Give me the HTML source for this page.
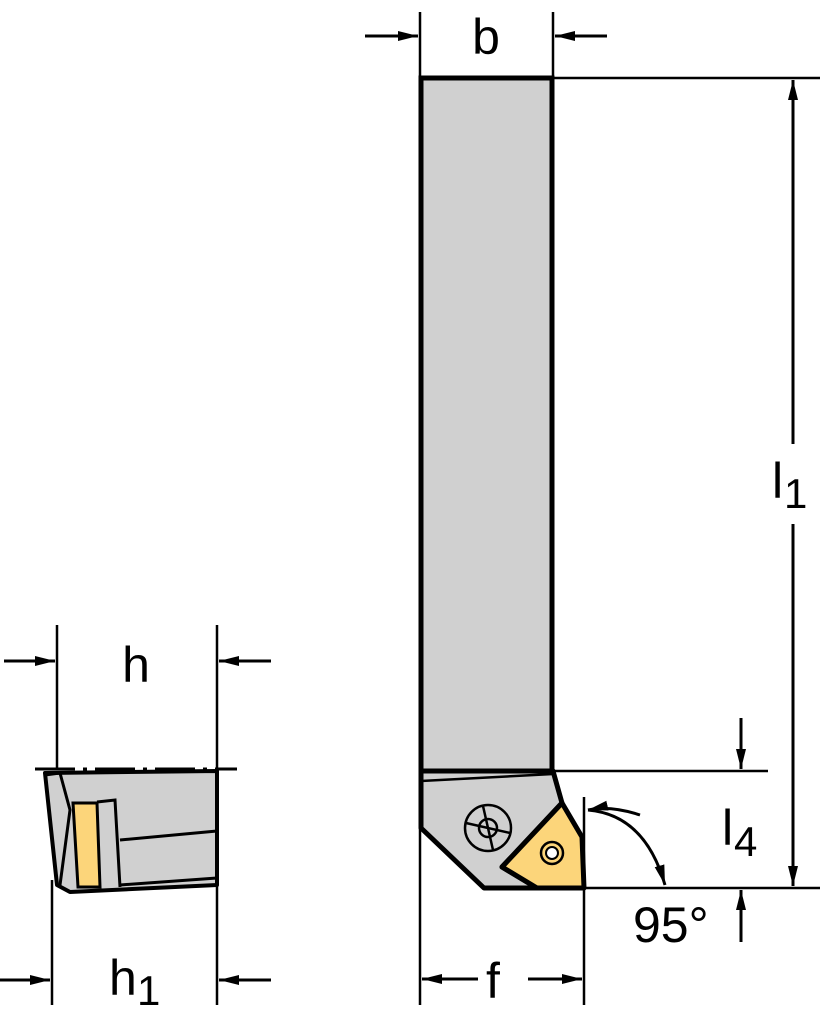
<!DOCTYPE html>
<html><head><style>html,body{margin:0;padding:0;background:#fff}svg{display:block}</style></head>
<body>
<svg width="820" height="1024" viewBox="0 0 820 1024" xmlns="http://www.w3.org/2000/svg" font-family="Liberation Sans, sans-serif">
<defs>
<marker id="a" viewBox="0 0 20 10" refX="20" refY="5" markerWidth="20" markerHeight="10" markerUnits="userSpaceOnUse" orient="auto"><path d="M0,0 L20,5 L0,10 z" fill="#000"/></marker>
</defs>
<g stroke="#000" fill="none">
<rect x="421" y="78" width="131" height="693" fill="#d0d0d0" stroke-width="5"/>
<line x1="552" y1="78" x2="820" y2="78" stroke-width="2.5"/>
<line x1="552" y1="771" x2="768" y2="771" stroke-width="2.5"/>
<line x1="420" y1="12" x2="420" y2="78" stroke-width="2.5"/>
<line x1="553" y1="12" x2="553" y2="78" stroke-width="2.5"/>
<line x1="365" y1="36" x2="418" y2="36" stroke-width="3" marker-end="url(#a)"/>
<line x1="607" y1="36" x2="555" y2="36" stroke-width="3" marker-end="url(#a)"/>
<path d="M421,771 L553,771 L562,803 L502,867 L537,888 L484,888 L421,828 Z" fill="#d0d0d0" stroke-width="5" stroke-linejoin="round"/>
<line x1="421" y1="781" x2="553" y2="774" stroke-width="2.5"/>
<path d="M562,803 L582,837 L584,888 L537,888 L502,867 Z" fill="#fcd57a" stroke-width="5" stroke-linejoin="round"/>
<circle cx="552" cy="853" r="11" fill="#fcd57a" stroke-width="2.5"/>
<circle cx="552" cy="853" r="6" fill="#fff" stroke-width="2"/>
<circle cx="488" cy="828" r="23" stroke-width="2.5"/>
<circle cx="488" cy="828" r="9" stroke-width="2.5"/>
<line x1="466" y1="823" x2="510" y2="833" stroke-width="2.5"/>
<line x1="483" y1="806" x2="493" y2="850" stroke-width="2.5"/>
<line x1="420" y1="828" x2="420" y2="1005" stroke-width="2.5"/>
<line x1="584" y1="797" x2="584" y2="1005" stroke-width="2.5"/>
<line x1="478" y1="979" x2="422" y2="979" stroke-width="3" marker-end="url(#a)"/>
<line x1="528" y1="979" x2="582" y2="979" stroke-width="3" marker-end="url(#a)"/>
<line x1="584" y1="888" x2="820" y2="888" stroke-width="2.5"/>
<line x1="793" y1="444" x2="793" y2="80" stroke-width="3" marker-end="url(#a)"/>
<line x1="793" y1="524" x2="793" y2="886" stroke-width="3" marker-end="url(#a)"/>
<line x1="741" y1="718" x2="741" y2="769" stroke-width="3" marker-end="url(#a)"/>
<line x1="741" y1="942" x2="741" y2="890" stroke-width="3" marker-end="url(#a)"/>
<path d="M588,810 Q645,815 665,885" stroke-width="3" marker-end="url(#a)"/>
<path d="M640,815 Q610,805 588,810" stroke-width="3" marker-end="url(#a)"/>
<line x1="57" y1="625" x2="57" y2="770" stroke-width="2.5"/>
<line x1="217" y1="625" x2="217" y2="770" stroke-width="2.5"/>
<line x1="4" y1="661" x2="55" y2="661" stroke-width="3" marker-end="url(#a)"/>
<line x1="271" y1="661" x2="219" y2="661" stroke-width="3" marker-end="url(#a)"/>
<path d="M45,773 L217,771 L217,885 L70,892 L57,885 Z" fill="#d0d0d0" stroke-width="4" stroke-linejoin="round"/>
<path d="M45,775 L60,773 L70,810 L60,885" stroke-width="3"/>
<path d="M97,802 L115,800 L120,887" stroke-width="3"/>
<path d="M73,803 L97,803 L100,887 L78,887 Z" fill="#fcd57a" stroke-width="3"/>
<line x1="120" y1="840" x2="217" y2="831" stroke-width="3"/>
<line x1="120" y1="885" x2="217" y2="878" stroke-width="3"/>
<line x1="35" y1="769" x2="237" y2="769" stroke-width="3" stroke-dasharray="40,8,4,8"/>
<line x1="52" y1="880" x2="52" y2="1005" stroke-width="2.5"/>
<line x1="217" y1="880" x2="217" y2="1005" stroke-width="2.5"/>
<line x1="0" y1="980" x2="50" y2="980" stroke-width="3" marker-end="url(#a)"/>
<line x1="271" y1="980" x2="219" y2="980" stroke-width="3" marker-end="url(#a)"/>
</g>
<g fill="#000" font-size="50">
<text x="486" y="54" text-anchor="middle">b</text>
<text x="136" y="682" text-anchor="middle">h</text>
<text x="109" y="995">h</text><text x="137" y="1005" font-size="42">1</text>
<text x="493" y="998" text-anchor="middle">f</text>
<text x="772" y="498">l</text><text x="784" y="508" font-size="42">1</text>
<text x="722" y="845">l</text><text x="734" y="856" font-size="42">4</text>
<text x="633" y="942">95°</text>
</g>
</svg>
</body></html>
